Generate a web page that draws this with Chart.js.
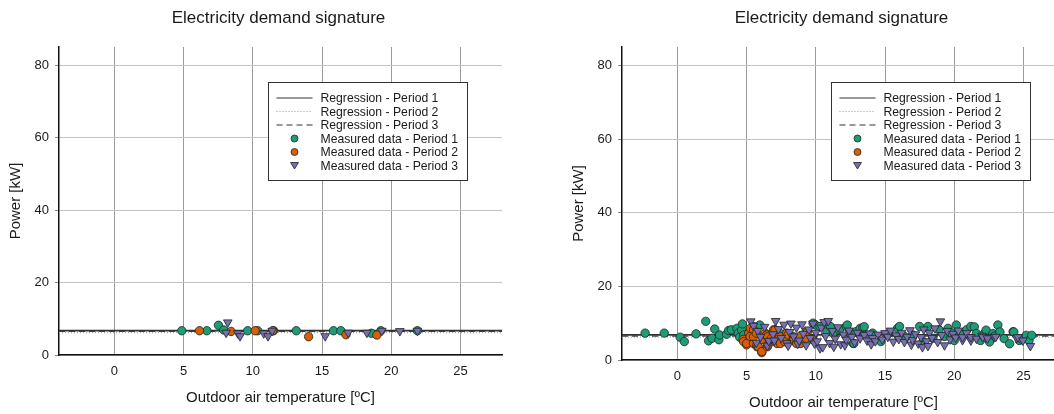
<!DOCTYPE html>
<html>
<head>
<meta charset="utf-8">
<script src="https://cdn.jsdelivr.net/npm/chart.js@4/dist/chart.umd.min.js"></script>
<style>
  html, body { margin: 0; padding: 0; background: #fff; overflow: hidden; width: 1054px; height: 414px; }
  canvas { position: absolute; top: 0; }
  #leftChart { left: 0; }
  #rightChart { left: 563px; }
</style>
</head>
<body>
<canvas id="leftChart" width="527" height="414"></canvas>
<canvas id="rightChart" width="527" height="419"></canvas>
<script>
// DATA
let chartTitle = 'Electricity demand signature';
let xAxisTitle = 'Outdoor air temperature [ºC]';
let yAxisTitle = 'Power [kW]';
let xTicks = [0, 5, 10, 15, 20, 25];
let yTicks = [0, 20, 40, 60, 80];
let xRange = [-4, 28];
let yRange = [0, 85];
let seriesLabels = [
    'Regression - Period 1',
    'Regression - Period 2',
    'Regression - Period 3',
    'Measured data - Period 1',
    'Measured data - Period 2',
    'Measured data - Period 3'
];

// left chart: regression levels (period 1, 2, 3)
let leftRegression = [6.7, 6.2, 6.5];
// left chart measured points [temperature, power]
let leftPeriod1 = [
    [4.87, 6.7], [6.68, 6.7], [7.52, 8.2], [7.9, 6.9], [9.63, 6.7], [10.35, 6.7],
    [11.5, 6.7], [13.14, 6.7], [15.83, 6.7], [16.36, 6.7], [18.57, 6.0], [19.25, 6.7],
    [21.89, 6.7]
];
let leftPeriod2 = [
    [6.15, 6.7], [8.43, 6.5], [10.17, 6.7], [11.44, 6.7], [14.03, 5.05], [16.73, 5.6],
    [18.96, 5.5]
];
let leftPeriod3 = [
    [8.19, 9.0], [8.07, 6.15], [8.91, 6.0], [9.08, 5.2], [10.79, 6.0], [11.1, 5.2],
    [11.4, 6.7], [15.23, 5.2], [16.89, 6.15], [18.24, 6.15], [19.32, 6.7], [20.62, 6.6],
    [21.89, 6.7]
];

// right chart: regression levels (period 1, 2, 3)
let rightRegression = [6.8, 6.2, 6.5];
let rightPeriod1 = [
    [-2.33, 7.3], [-0.95, 7.3], [0.2, 6.2], [0.5, 5.0], [1.35, 7.1], [2.05, 10.5],
    [2.25, 5.2], [2.5, 5.9], [2.7, 8.4], [3.0, 5.5], [3.05, 6.8], [3.55, 7.0],
    [3.7, 8.0], [3.9, 8.2], [4.3, 8.6], [4.4, 7.3], [4.5, 6.2], [4.65, 8.2],
    [4.7, 9.8], [4.8, 6.8], [5.5, 9.1], [5.95, 9.5], [7.4, 7.3], [8.35, 6.4],
    [9.3, 7.7], [9.8, 10.0], [9.98, 9.5], [10.3, 9.1], [10.8, 7.7], [10.9, 9.5],
    [11.07, 9.05], [11.25, 7.3], [11.7, 8.2], [12.2, 9.1], [12.27, 9.5], [12.45, 7.3],
    [12.7, 4.5], [12.75, 4.5], [12.9, 7.7], [13.2, 8.6], [13.4, 8.8], [13.5, 9.05],
    [13.65, 6.8], [14.1, 7.3], [14.7, 5.0], [15.3, 7.3], [15.9, 8.6], [16.05, 9.1],
    [16.4, 6.4], [17.0, 6.8], [17.5, 9.1], [17.75, 5.0], [18.1, 9.1], [18.45, 5.9],
    [18.9, 8.2], [19.3, 6.4], [19.55, 8.6], [19.8, 7.3], [20.0, 5.3], [20.15, 9.5],
    [20.4, 7.3], [20.9, 8.2], [21.2, 9.1], [21.45, 9.0], [21.6, 7.2], [21.9, 5.3],
    [22.2, 7.3], [22.3, 8.1], [22.55, 4.9], [22.8, 7.2], [22.9, 6.5], [23.15, 9.5],
    [23.3, 7.6], [23.6, 5.8], [24.0, 4.4], [24.25, 7.7], [24.3, 7.6], [24.7, 5.3],
    [24.9, 5.6], [25.2, 6.7], [25.4, 5.3], [25.6, 6.7]
];
let rightPeriod2 = [
    [4.75, 5.6], [4.78, 5.0], [5.0, 4.1], [5.0, 4.5], [5.15, 7.3], [5.25, 6.4],
    [5.27, 8.6], [5.5, 4.5], [5.5, 8.2], [5.5, 6.3], [5.7, 7.3], [5.75, 3.6],
    [5.75, 4.1], [5.85, 3.6], [6.1, 2.0], [6.1, 2.3], [6.2, 5.5], [6.35, 7.3],
    [6.45, 6.8], [6.5, 6.3], [6.5, 3.6], [6.55, 4.1], [6.7, 5.0], [6.8, 5.9],
    [6.95, 8.2], [7.05, 8.2], [7.2, 4.5], [7.2, 6.3], [7.4, 6.4], [7.44, 4.5],
    [7.75, 5.0], [7.9, 7.3], [8.0, 6.8], [8.35, 5.5], [8.4, 5.4], [8.6, 4.5],
    [8.85, 6.4], [8.9, 4.5], [9.3, 5.9], [9.4, 7.7], [9.8, 5.5]
];
let rightPeriod3 = [
    [5.3, 10.5], [5.5, 9.3], [5.7, 4.7], [5.8, 7.9], [6.0, 6.3], [6.3, 9.0],
    [6.5, 3.9], [6.6, 5.2], [6.9, 7.0], [7.0, 5.3], [7.1, 10.6], [7.3, 8.4],
    [7.5, 6.0], [7.7, 9.6], [7.9, 4.6], [8.0, 3.9], [8.1, 7.6], [8.2, 9.9],
    [8.4, 6.4], [8.6, 8.8], [8.7, 4.4], [8.8, 5.3], [9.0, 9.7], [9.1, 7.1],
    [9.3, 4.0], [9.5, 8.3], [9.6, 6.0], [9.8, 9.9], [9.9, 4.5], [10.0, 7.4],
    [10.1, 5.1], [10.3, 3.2], [10.4, 8.8], [10.5, 3.5], [10.6, 10.3], [10.7, 6.5],
    [10.9, 10.6], [11.0, 4.6], [11.2, 7.9], [11.3, 3.6], [11.4, 5.8], [11.6, 8.9],
    [11.8, 4.3], [12.0, 6.9], [12.1, 4.0], [12.2, 5.5], [12.4, 8.0], [12.6, 6.3],
    [12.8, 4.8], [13.0, 7.4], [13.2, 5.9], [13.5, 6.8], [13.7, 5.3], [13.9, 7.2],
    [14.0, 4.3], [14.1, 6.0], [14.3, 5.1], [14.5, 6.9], [14.8, 5.6], [15.0, 7.3],
    [15.2, 6.3], [15.4, 8.0], [15.6, 5.0], [15.8, 6.7], [16.0, 5.7], [16.2, 7.4],
    [16.4, 4.9], [16.6, 6.3], [16.8, 8.1], [16.9, 4.2], [17.0, 5.4], [17.2, 7.0],
    [17.4, 4.5], [17.6, 6.2], [17.7, 3.5], [17.8, 8.3], [18.0, 5.1], [18.1, 3.8],
    [18.2, 7.4], [18.4, 6.0], [18.6, 8.6], [18.8, 4.9], [19.0, 10.5], [19.1, 6.8],
    [19.3, 4.0], [19.5, 7.9], [19.7, 5.6], [19.9, 7.1], [20.1, 6.1], [20.3, 8.0],
    [20.6, 5.4], [20.6, 6.2], [20.9, 7.3], [21.2, 5.3], [21.2, 6.2], [21.6, 5.8],
    [22.0, 6.6], [22.06, 6.2], [22.4, 5.9], [22.9, 6.2], [23.0, 6.3], [24.5, 6.0],
    [24.6, 6.2], [24.96, 5.3], [25.5, 3.8]
];

let colorPeriod1 = '#1b9e77';
let colorPeriod2 = '#d95f02';
let colorPeriod3 = '#7570b3';
let fontFamily = '"Liberation Sans", Arial, sans-serif';

function toPoints(arr) {
    return arr.map(function (p) { return { x: p[0], y: p[1] }; });
}

function regressionLine(level) {
    return [{ x: xRange[0], y: level }, { x: xRange[1], y: level }];
}

// title + legend box drawn on top of the plot
let overlayPlugin = {
    id: 'overlay',
    afterDraw: function (chart) {
        let ctx = chart.ctx;
        let area = chart.chartArea;
        ctx.save();
        ctx.fillStyle = '#1a1a1a';
        ctx.font = '17px ' + fontFamily;
        ctx.textAlign = 'center';
        ctx.textBaseline = 'middle';
        ctx.fillText(chartTitle, (area.left + area.right) / 2 - 2, 18);

        let bx = area.left + 209.5, by = area.top + 35.5;
        let bw = 199, bh = 98;
        ctx.fillStyle = '#fff';
        ctx.fillRect(bx, by, bw, bh);
        ctx.strokeStyle = '#333';
        ctx.lineWidth = 1;
        ctx.strokeRect(bx, by, bw, bh);

        ctx.font = '12.2px ' + fontFamily;
        ctx.textAlign = 'left';
        for (let i = 0; i < seriesLabels.length; i++) {
            let ry = by + 15.5 + i * 13.5;
            if (i < 3) {
                ctx.beginPath();
                ctx.lineWidth = 1;
                ctx.strokeStyle = i === 1 ? '#999' : '#333';
                ctx.setLineDash(i === 0 ? [] : (i === 1 ? [1, 2] : [6, 4]));
                ctx.moveTo(bx + 8, ry);
                ctx.lineTo(bx + 44, ry);
                ctx.stroke();
                ctx.setLineDash([]);
            } else {
                let mx = bx + 26;
                ctx.lineWidth = 0.8;
                ctx.strokeStyle = '#222';
                ctx.beginPath();
                if (i === 5) {
                    ctx.fillStyle = colorPeriod3;
                    ctx.moveTo(mx - 4, ry - 3);
                    ctx.lineTo(mx + 4, ry - 3);
                    ctx.lineTo(mx, ry + 3.5);
                    ctx.closePath();
                } else {
                    ctx.fillStyle = i === 3 ? colorPeriod1 : colorPeriod2;
                    ctx.arc(mx, ry, 3.5, 0, Math.PI * 2);
                }
                ctx.fill();
                ctx.stroke();
            }
            ctx.fillStyle = '#1a1a1a';
            ctx.fillText(seriesLabels[i], bx + 52, ry + 1);
        }
        ctx.restore();
    }
};

function makeChart(canvasId, regression, p1, p2, p3) {
    let ctx = document.getElementById(canvasId).getContext('2d');
    return new Chart(ctx, {
        type: 'scatter',
        data: {
            datasets: [{
                label: seriesLabels[5],
                data: toPoints(p3),
                pointStyle: 'triangle',
                rotation: 180,
                pointRadius: 5,
                backgroundColor: colorPeriod3,
                borderColor: '#222',
                borderWidth: 0.8,
                order: 1
            }, {
                label: seriesLabels[4],
                data: toPoints(p2),
                pointRadius: 4.2,
                backgroundColor: colorPeriod2,
                borderColor: '#222',
                borderWidth: 0.8,
                order: 2
            }, {
                label: seriesLabels[3],
                data: toPoints(p1),
                pointRadius: 4.2,
                backgroundColor: colorPeriod1,
                borderColor: '#222',
                borderWidth: 0.8,
                order: 3
            }, {
                type: 'line',
                label: seriesLabels[0],
                data: regressionLine(regression[0]),
                borderColor: '#333',
                borderWidth: 1.8,
                pointRadius: 0,
                order: 4
            }, {
                type: 'line',
                label: seriesLabels[1],
                data: regressionLine(regression[1]),
                borderColor: '#aaa',
                borderWidth: 1.4,
                borderDash: [1, 2],
                pointRadius: 0,
                order: 6
            }, {
                type: 'line',
                label: seriesLabels[2],
                data: regressionLine(regression[2]),
                borderColor: '#444',
                borderWidth: 1.2,
                borderDash: [6, 4],
                pointRadius: 0,
                order: 5
            }]
        },
        options: {
            responsive: false,
            animation: false,
            layout: { padding: { top: 47, right: 25, left: 0, bottom: 0 } },
            plugins: {
                legend: { display: false },
                tooltip: { enabled: false }
            },
            scales: {
                x: {
                    type: 'linear',
                    min: xRange[0],
                    max: xRange[1],
                    afterBuildTicks: function (scale) {
                        scale.ticks = xTicks.map(function (v) { return { value: v }; });
                    },
                    afterFit: function (scale) { scale.height = 59; },
                    ticks: {
                        color: '#1a1a1a',
                        font: { family: fontFamily, size: 13 },
                        padding: 9,
                        maxRotation: 0
                    },
                    grid: { color: '#9a9a9a', drawTicks: false, lineWidth: 1 },
                    border: { display: true, color: '#111', width: 1.5 },
                    title: {
                        display: true,
                        text: xAxisTitle,
                        color: '#1a1a1a',
                        font: { family: fontFamily, size: 15 },
                        padding: { top: 0, bottom: 7 }
                    }
                },
                y: {
                    type: 'linear',
                    min: yRange[0],
                    max: yRange[1],
                    afterBuildTicks: function (scale) {
                        scale.ticks = yTicks.map(function (v) { return { value: v }; });
                    },
                    afterFit: function (scale) { scale.width = 59; },
                    ticks: {
                        color: '#1a1a1a',
                        font: { family: fontFamily, size: 13 },
                        padding: 6
                    },
                    grid: { color: '#c4c4c4', tickColor: '#888', tickLength: 4, lineWidth: 1 },
                    border: { display: true, color: '#111', width: 1.5 },
                    title: {
                        display: true,
                        text: yAxisTitle,
                        color: '#1a1a1a',
                        font: { family: fontFamily, size: 15 },
                        padding: { top: 7, bottom: 0 }
                    }
                }
            }
        },
        plugins: [overlayPlugin]
    });
}

let leftChart = makeChart('leftChart', leftRegression, leftPeriod1, leftPeriod2, leftPeriod3);
let rightChart = makeChart('rightChart', rightRegression, rightPeriod1, rightPeriod2, rightPeriod3);
</script>
</body>
</html>
